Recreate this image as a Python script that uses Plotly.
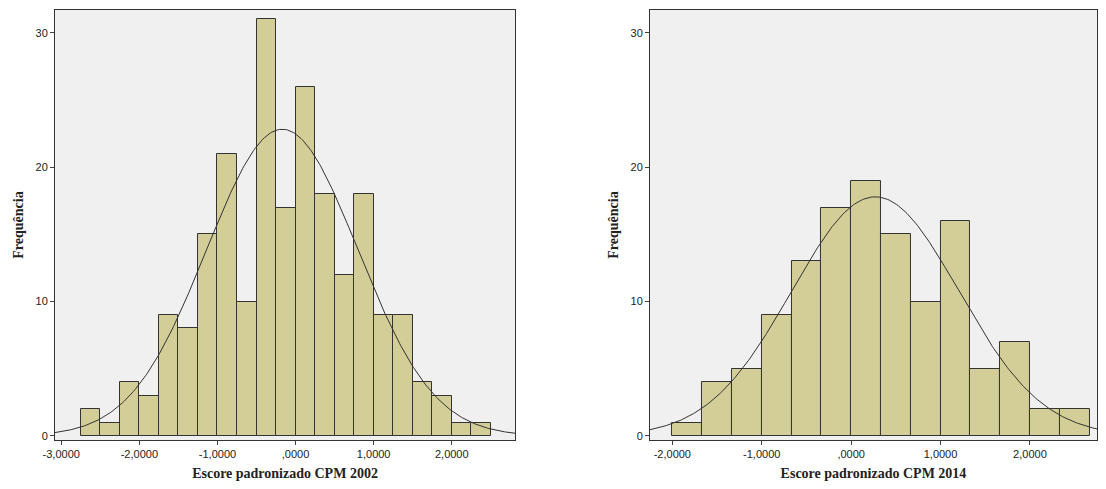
import numpy as np
import plotly.graph_objects as go
from plotly.subplots import make_subplots

# Left histogram (CPM 2002)
left_start, left_width = -2.75, 0.25
left_counts = [2, 1, 4, 3, 9, 8, 15, 21, 10, 31, 17, 26, 18, 12, 18, 9, 9, 4, 3, 1, 1]
left_mean, left_sd = -0.17, 0.97
# Right histogram (CPM 2014)
right_start, right_width = -2.0, 1/3
right_counts = [1, 4, 5, 9, 13, 17, 19, 15, 10, 16, 5, 7, 2, 2]
right_mean, right_sd = 0.27, 0.934

left_ticks = [-3, -2, -1, 0, 1, 2]
left_ticklabels = ["-3,0000", "-2,0000", "-1,0000", ",0000", "1,0000", "2,0000"]
right_ticks = [-2, -1, 0, 1, 2]
right_ticklabels = ["-2,0000", "-1,0000", ",0000", "1,0000", "2,0000"]

fig = make_subplots(rows=1, cols=2, horizontal_spacing=0.12)

def add(col, start, w, counts, mu, sd, xr):
    centers = [start + w*(i+0.5) for i in range(len(counts))]
    fig.add_trace(go.Bar(x=centers, y=counts, width=w, marker=dict(color="#d3ce97", line=dict(color="#333333", width=1)), showlegend=False), 1, col)
    xs = np.linspace(xr[0], xr[1], 300)
    n = sum(counts)
    ys = n*w/(sd*np.sqrt(2*np.pi))*np.exp(-0.5*((xs-mu)/sd)**2)
    fig.add_trace(go.Scatter(x=xs, y=ys, mode="lines", line=dict(color="#333333", width=1), showlegend=False), 1, col)

add(1, left_start, left_width, left_counts, left_mean, left_sd, [-3.08, 2.81])
add(2, right_start, right_width, right_counts, right_mean, right_sd, [-2.25, 2.75])

tf = dict(family="Liberation Serif", size=14, color="#222")
ax = dict(showgrid=False, zeroline=False, showline=True, linecolor="#333333", mirror=True, ticks="outside", ticklen=4, automargin=False, tickfont=dict(family="Liberation Sans", size=11, color="#222"))
fig.update_xaxes(**ax)
fig.update_yaxes(**ax)
fig.update_xaxes(range=[-3.08, 2.81], tickvals=left_ticks, ticktext=left_ticklabels, title=dict(text="<b>Escore padronizado CPM 2002</b>", font=tf, standoff=8), row=1, col=1)
fig.update_xaxes(range=[-2.25, 2.75], tickvals=right_ticks, ticktext=right_ticklabels, title=dict(text="<b>Escore padronizado CPM 2014</b>", font=tf, standoff=8), row=1, col=2)
fig.update_yaxes(range=[-0.3, 31.7], tickvals=[0, 10, 20, 30], title=dict(text="<b>Frequência</b>", font=tf, standoff=8), row=1, col=1)
fig.update_yaxes(range=[-0.3, 31.7], tickvals=[0, 10, 20, 30], title=dict(text="<b>Frequência</b>", font=tf, standoff=8), row=1, col=2)
fig.update_layout(width=1090, height=481, paper_bgcolor="white", plot_bgcolor="#f0f0f0",
                  margin=dict(l=47, r=1, t=2, b=49, autoexpand=False), bargap=0)
fig.layout.xaxis.domain = [0, 0.4415]
fig.layout.xaxis2.domain = [0.571, 1.0]
fig.write_html("out.html")
